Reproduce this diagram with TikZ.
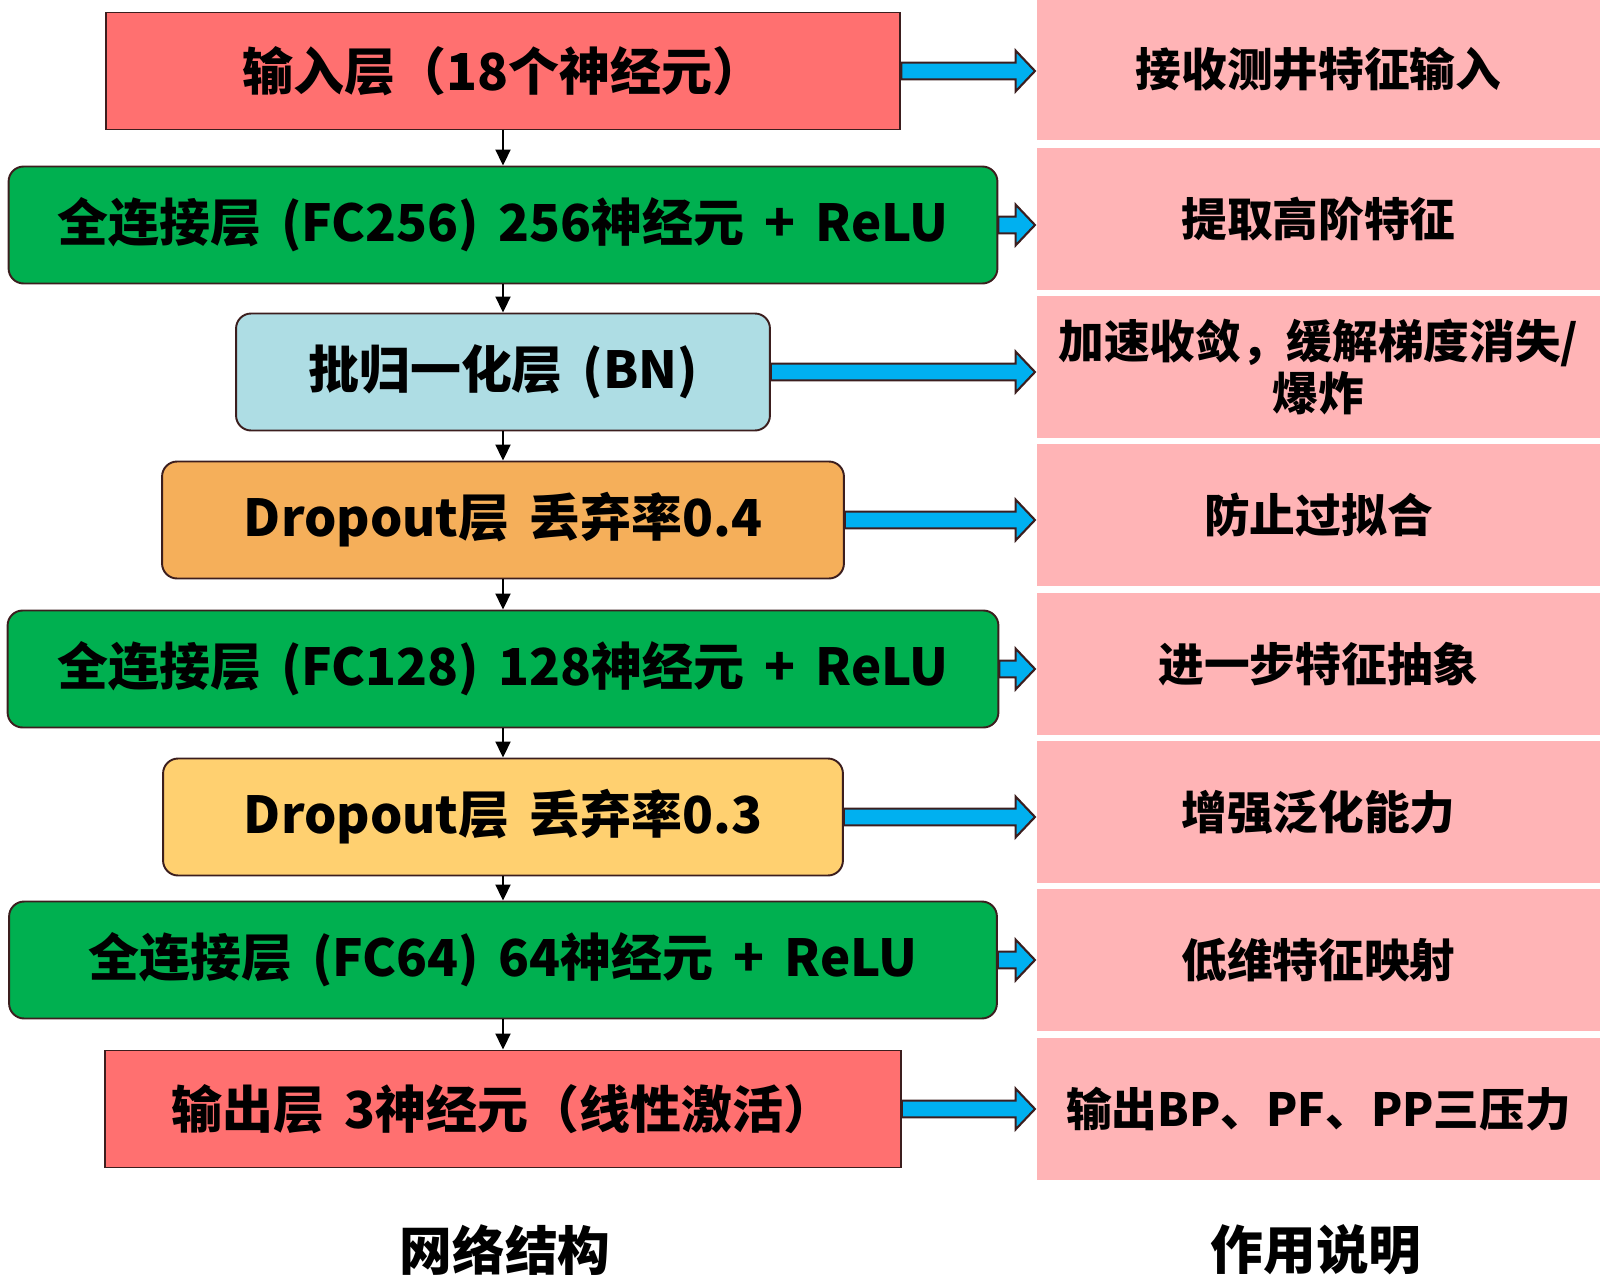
\documentclass[tikz,border=0pt]{standalone}
\usepackage{fontspec}
\setmainfont{Noto Sans CJK SC}[WordSpace=1.7]
\usetikzlibrary{positioning,arrows.meta,calc}

\definecolor{edgebrown}{RGB}{60,30,30}
\definecolor{layerred}{RGB}{255,112,112}
\definecolor{layergreen}{RGB}{0,176,80}
\definecolor{layerblue}{RGB}{174,221,228}
\definecolor{layerorange}{RGB}{245,175,90}
\definecolor{layeryellow}{RGB}{255,208,112}
\definecolor{descpink}{RGB}{255,180,182}
\definecolor{arrowblue}{RGB}{0,176,240}

% fat blue arrow from a layer to its description
\newcommand{\fatarrow}[2]{%
  \draw[fat] let \p1=(#1.east), \p2=(#2.west) in
    (\x1,\y1+4.8pt) -- (\x2-12pt,\y1+4.8pt) -- (\x2-12pt,\y1+11.6pt) -- (\x2-1pt,\y1)
    -- (\x2-12pt,\y1-11.6pt) -- (\x2-12pt,\y1-4.8pt) -- (\x1,\y1-4.8pt) -- cycle;}

\begin{document}
\begin{tikzpicture}[x=0.02cm, y=-0.02cm,
    layer/.style={draw=edgebrown, line width=1.1pt, minimum height=2.34cm, inner sep=0pt,
                  font=\fontsize{29}{34}\selectfont\bfseries},
    rlayer/.style={layer, rounded corners=0.3cm},
    desc/.style={fill=descpink, minimum width=11.26cm, minimum height=2.86cm, inner sep=0pt,
                 align=center, font=\fontsize{26}{30}\selectfont\bfseries},
    flow/.style={line width=1.1pt, -{Triangle[length=0.32cm, width=0.3cm]}},
    fat/.style={draw=edgebrown, line width=1.2pt, fill=arrowblue, line join=miter},
    captxt/.style={font=\fontsize{30}{36}\selectfont\bfseries},
]
\useasboundingbox (0,0) rectangle (1600,1278);

% network layers
\node[layer, fill=layerred, minimum width=15.9cm] (inlayer) at (503,71) {输入层（18个神经元）};
\node[rlayer, fill=layergreen, minimum width=19.78cm] (fc1) at (503,225) {全连接层 (FC256) 256神经元 + ReLU};
\node[rlayer, fill=layerblue, minimum width=10.68cm] (bn) at (503,372) {批归一化层 (BN)};
\node[rlayer, fill=layerorange, minimum width=13.64cm] (drop1) at (503,520) {Dropout层 丢弃率0.4};
\node[rlayer, fill=layergreen, minimum width=19.82cm] (fc2) at (503,669) {全连接层 (FC128) 128神经元 + ReLU};
\node[rlayer, fill=layeryellow, minimum width=13.6cm] (drop2) at (503,817) {Dropout层 丢弃率0.3};
\node[rlayer, fill=layergreen, minimum width=19.76cm] (fc3) at (503,960) {全连接层 (FC64) 64神经元 + ReLU};
\node[layer, fill=layerred, minimum width=15.92cm] (outlayer) at (503,1109) {输出层 3神经元（线性激活）};

% descriptions
\node[desc] (d1) at (1318.5,69) {接收测井特征输入};
\node[desc] (d2) at (1318.5,219) {提取高阶特征};
\node[desc] (d3) at (1318.5,367) {加速收敛，缓解梯度消失/\\爆炸};
\node[desc] (d4) at (1318.5,515) {防止过拟合};
\node[desc] (d5) at (1318.5,664) {进一步特征抽象};
\node[desc] (d6) at (1318.5,812) {增强泛化能力};
\node[desc] (d7) at (1318.5,960) {低维特征映射};
\node[desc] (d8) at (1318.5,1109) {输出BP、PF、PP三压力};

% captions
\node[captxt] (capnet) at (505,1250) {网络结构};
\node[captxt] (capfun) at (1316,1250) {作用说明};

% data flow
\draw[flow] (inlayer) -- (fc1);
\draw[flow] (fc1) -- (bn);
\draw[flow] (bn) -- (drop1);
\draw[flow] (drop1) -- (fc2);
\draw[flow] (fc2) -- (drop2);
\draw[flow] (drop2) -- (fc3);
\draw[flow] (fc3) -- (outlayer);

% layer -> role
\fatarrow{inlayer}{d1}
\fatarrow{fc1}{d2}
\fatarrow{bn}{d3}
\fatarrow{drop1}{d4}
\fatarrow{fc2}{d5}
\fatarrow{drop2}{d6}
\fatarrow{fc3}{d7}
\fatarrow{outlayer}{d8}

\end{tikzpicture}
\end{document}
